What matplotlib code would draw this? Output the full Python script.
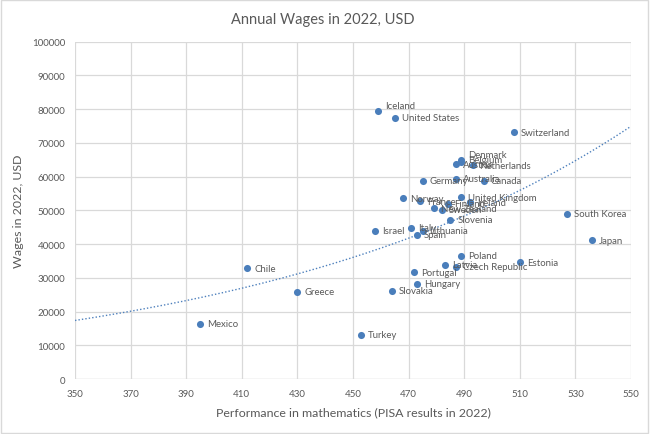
import matplotlib.pyplot as plt
import numpy as np

plt.rcParams['font.family'] = ['Lato', 'DejaVu Sans']

countries = ['Iceland', 'United States', 'Switzerland', 'Denmark', 'Belgium', 'Austria',
             'Netherlands', 'Germany', 'Australia', 'Canada', 'Norway', 'United Kingdom',
             'France', 'Finland', 'Ireland', 'New Zealand', 'Sweden', 'Slovenia',
             'South Korea', 'Israel', 'Italy', 'Lithuania', 'Spain', 'Poland', 'Estonia',
             'Latvia', 'Czech Republic', 'Portugal', 'Hungary', 'Slovakia', 'Turkey',
             'Japan', 'Chile', 'Greece', 'Mexico']
pisa_math = [459, 465, 508, 489, 489, 487, 493, 475, 487, 497, 468, 489,
             474, 484, 492, 479, 482, 485, 527, 458, 471, 475, 473, 489, 510,
             483, 487, 472, 473, 464, 453, 536, 412, 430, 395]
wages = [79500, 77400, 73200, 65000, 64300, 63700, 63400, 58800, 59300, 58800, 53600, 53900,
         52700, 51900, 52400, 50600, 50200, 47200, 49000, 43900, 44800, 44000, 42700,
         36600, 34600, 33900, 33300, 31700, 28300, 26100, 13100, 41200, 32900, 25800, 16400]

# small manual label nudges (points)
nudge = {'Iceland': 4, 'Denmark': 4, 'Belgium': 2}

fig = plt.figure(figsize=(6.5, 4.35), dpi=100)
fig.patch.set_facecolor('white')
ax = fig.add_axes([0.1154, 0.1264, 0.8554, 0.7754])

grid_c = '#d9d9d9'
text_c = '#595959'

ax.set_xlim(350, 550)
ax.set_ylim(0, 100000)
ax.set_xticks(np.arange(350, 551, 20))
ax.set_yticks(np.arange(0, 100001, 10000))
ax.grid(True, color=grid_c, linewidth=0.9)
ax.set_axisbelow(True)
for s in ax.spines.values():
    s.set_visible(False)
ax.axhline(0, color=grid_c, linewidth=0.9)
ax.tick_params(length=0, labelsize=7, colors=text_c, pad=7)

x = np.array(pisa_math, dtype=float)
y = np.array(wages, dtype=float)

# exponential trendline (fit on log of wages)
b, loga = np.polyfit(x, np.log(y), 1)
xt = np.linspace(350, 550, 200)
ax.plot(xt, np.exp(loga + b * xt), linestyle=(0, (1, 1.5)), color='#4f81bd',
        linewidth=1.0, zorder=2)

ax.scatter(x, y, s=26, color='#4a7ebb', zorder=3, linewidths=0)

for name, px, py in zip(countries, x, y):
    ax.annotate(name, (px, py), xytext=(5, nudge.get(name, 0)), textcoords='offset points',
                ha='left', va='center', fontsize=6.9, color=text_c, zorder=4)

fig.text(0.497, 0.955, 'Annual Wages in 2022, USD', fontsize=10.5, color=text_c,
         ha='center', va='center')
ax.set_xlabel('Performance in mathematics (PISA results in 2022)', fontsize=8.9,
              color=text_c, labelpad=6)
ax.set_ylabel('Wages in 2022, USD', fontsize=8.9, color=text_c, labelpad=6)

# chart area border
fig.add_artist(plt.Rectangle((0.002, 0.003), 0.995, 0.994, transform=fig.transFigure,
                             fill=False, edgecolor='#d9d9d9', linewidth=1))

fig.savefig('out.png', dpi=100)
